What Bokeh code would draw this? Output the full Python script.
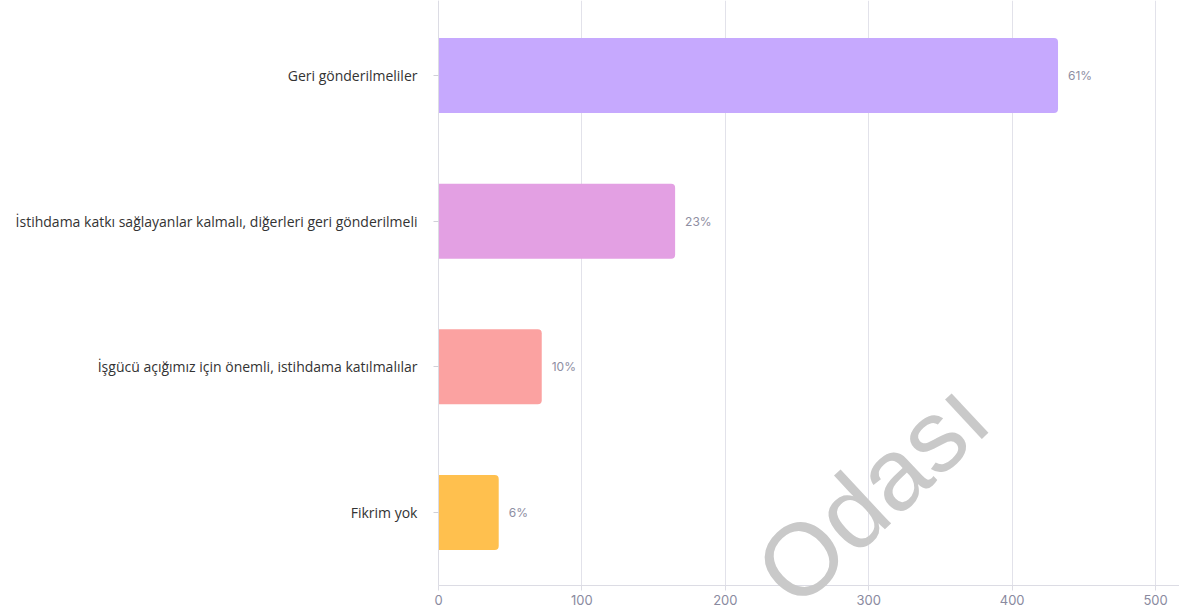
from bokeh.plotting import figure
from bokeh.models import Range1d, FixedTicker, ColumnDataSource, Label, BoxAnnotation
from bokeh.core.properties import value
from bokeh.embed import file_html
from bokeh.resources import INLINE

categories = [
    "Geri gönderilmeliler",
    "İstihdama katkı sağlayanlar kalmalı, diğerleri geri gönderilmeli",
    "İşgücü açığımız için önemli, istihdama katılmalılar",
    "Fikrim yok",
]
counts = [432, 165, 72, 42]
colors = ["#C6A9FE", "#E3A0E3", "#FBA2A1", "#FFC04E"]
x_ticks = [0, 100, 200, 300, 400, 500]

total = sum(counts)
pct_labels = [f"{round(c / total * 100)}%" for c in counts]
n = len(categories)
ypos = [n - 1 - i for i in range(n)]

AXIS_Y = -0.501   # value level where the x axis sits
X_END = 516.7
Y_END = 3.515

src = ColumnDataSource(dict(y=ypos, v=counts, c=colors, lab=pct_labels, cat=categories))

p = figure(width=1179, height=614, output_backend="svg", toolbar_location=None,
           x_range=Range1d(-305.4, X_END), y_range=Range1d(-0.700, Y_END),
           min_border_left=0, min_border_right=0, min_border_top=0, min_border_bottom=0)
p.outline_line_color = None
p.background_fill_color = "white"
p.border_fill_color = "white"

p.hbar(y="y", left=0, right="v", height=0.515, fill_color="c", line_color=None,
       border_radius=(0, 4, 4, 0), source=src)
p.text(x="v", y="y", text="lab", source=src, x_offset=10, text_baseline="middle",
       text_align="left", text_font=value("Inter"), text_font_size="12px", text_color="#8e8ea2")

# hide grid below the axis
p.add_layout(BoxAnnotation(top=AXIS_Y, fill_color="white", fill_alpha=1.0,
                           line_color=None, level="underlay"))

# axes
p.xaxis.fixed_location = AXIS_Y
p.xaxis.bounds = (0, X_END)
p.xaxis.ticker = FixedTicker(ticks=x_ticks)
p.xaxis.axis_line_color = "#dcdce4"
p.xaxis.major_tick_line_color = "#dcdce4"
p.xaxis.major_tick_out = 5
p.xaxis.major_tick_in = 0
p.xaxis.minor_tick_line_color = None
p.xaxis.major_label_text_font = "Inter"
p.xaxis.major_label_text_font_size = "13px"
p.xaxis.major_label_text_color = "#8a8aa0"
p.xaxis.major_label_standoff = 4

p.yaxis.fixed_location = 0
p.yaxis.ticker = FixedTicker(ticks=ypos)
p.yaxis.bounds = (AXIS_Y, Y_END)
p.yaxis.major_label_overrides = {y: c for y, c in zip(ypos, categories)}
p.yaxis.axis_line_color = "#dcdce4"
p.yaxis.major_tick_line_color = "#d0d0d8"
p.yaxis.major_tick_out = 5
p.yaxis.major_tick_in = 0
p.yaxis.minor_tick_line_color = None
p.yaxis.major_label_text_font = "Open Sans"
p.yaxis.major_label_text_font_size = "14px"
p.yaxis.major_label_text_color = "#333333"
p.yaxis.major_label_standoff = 16

p.xgrid.grid_line_color = "#e2e2ea"
p.ygrid.grid_line_color = None

# watermark
wm = Label(x=233.0, y=-0.505, text="Odası", angle=43, angle_units="deg",
           text_font="Liberation Sans", text_font_size="102px", text_color="#c9c9c9",
           text_align="left", text_baseline="alphabetic")
p.add_layout(wm)

open("out.html", "w").write(file_html(p, INLINE))
